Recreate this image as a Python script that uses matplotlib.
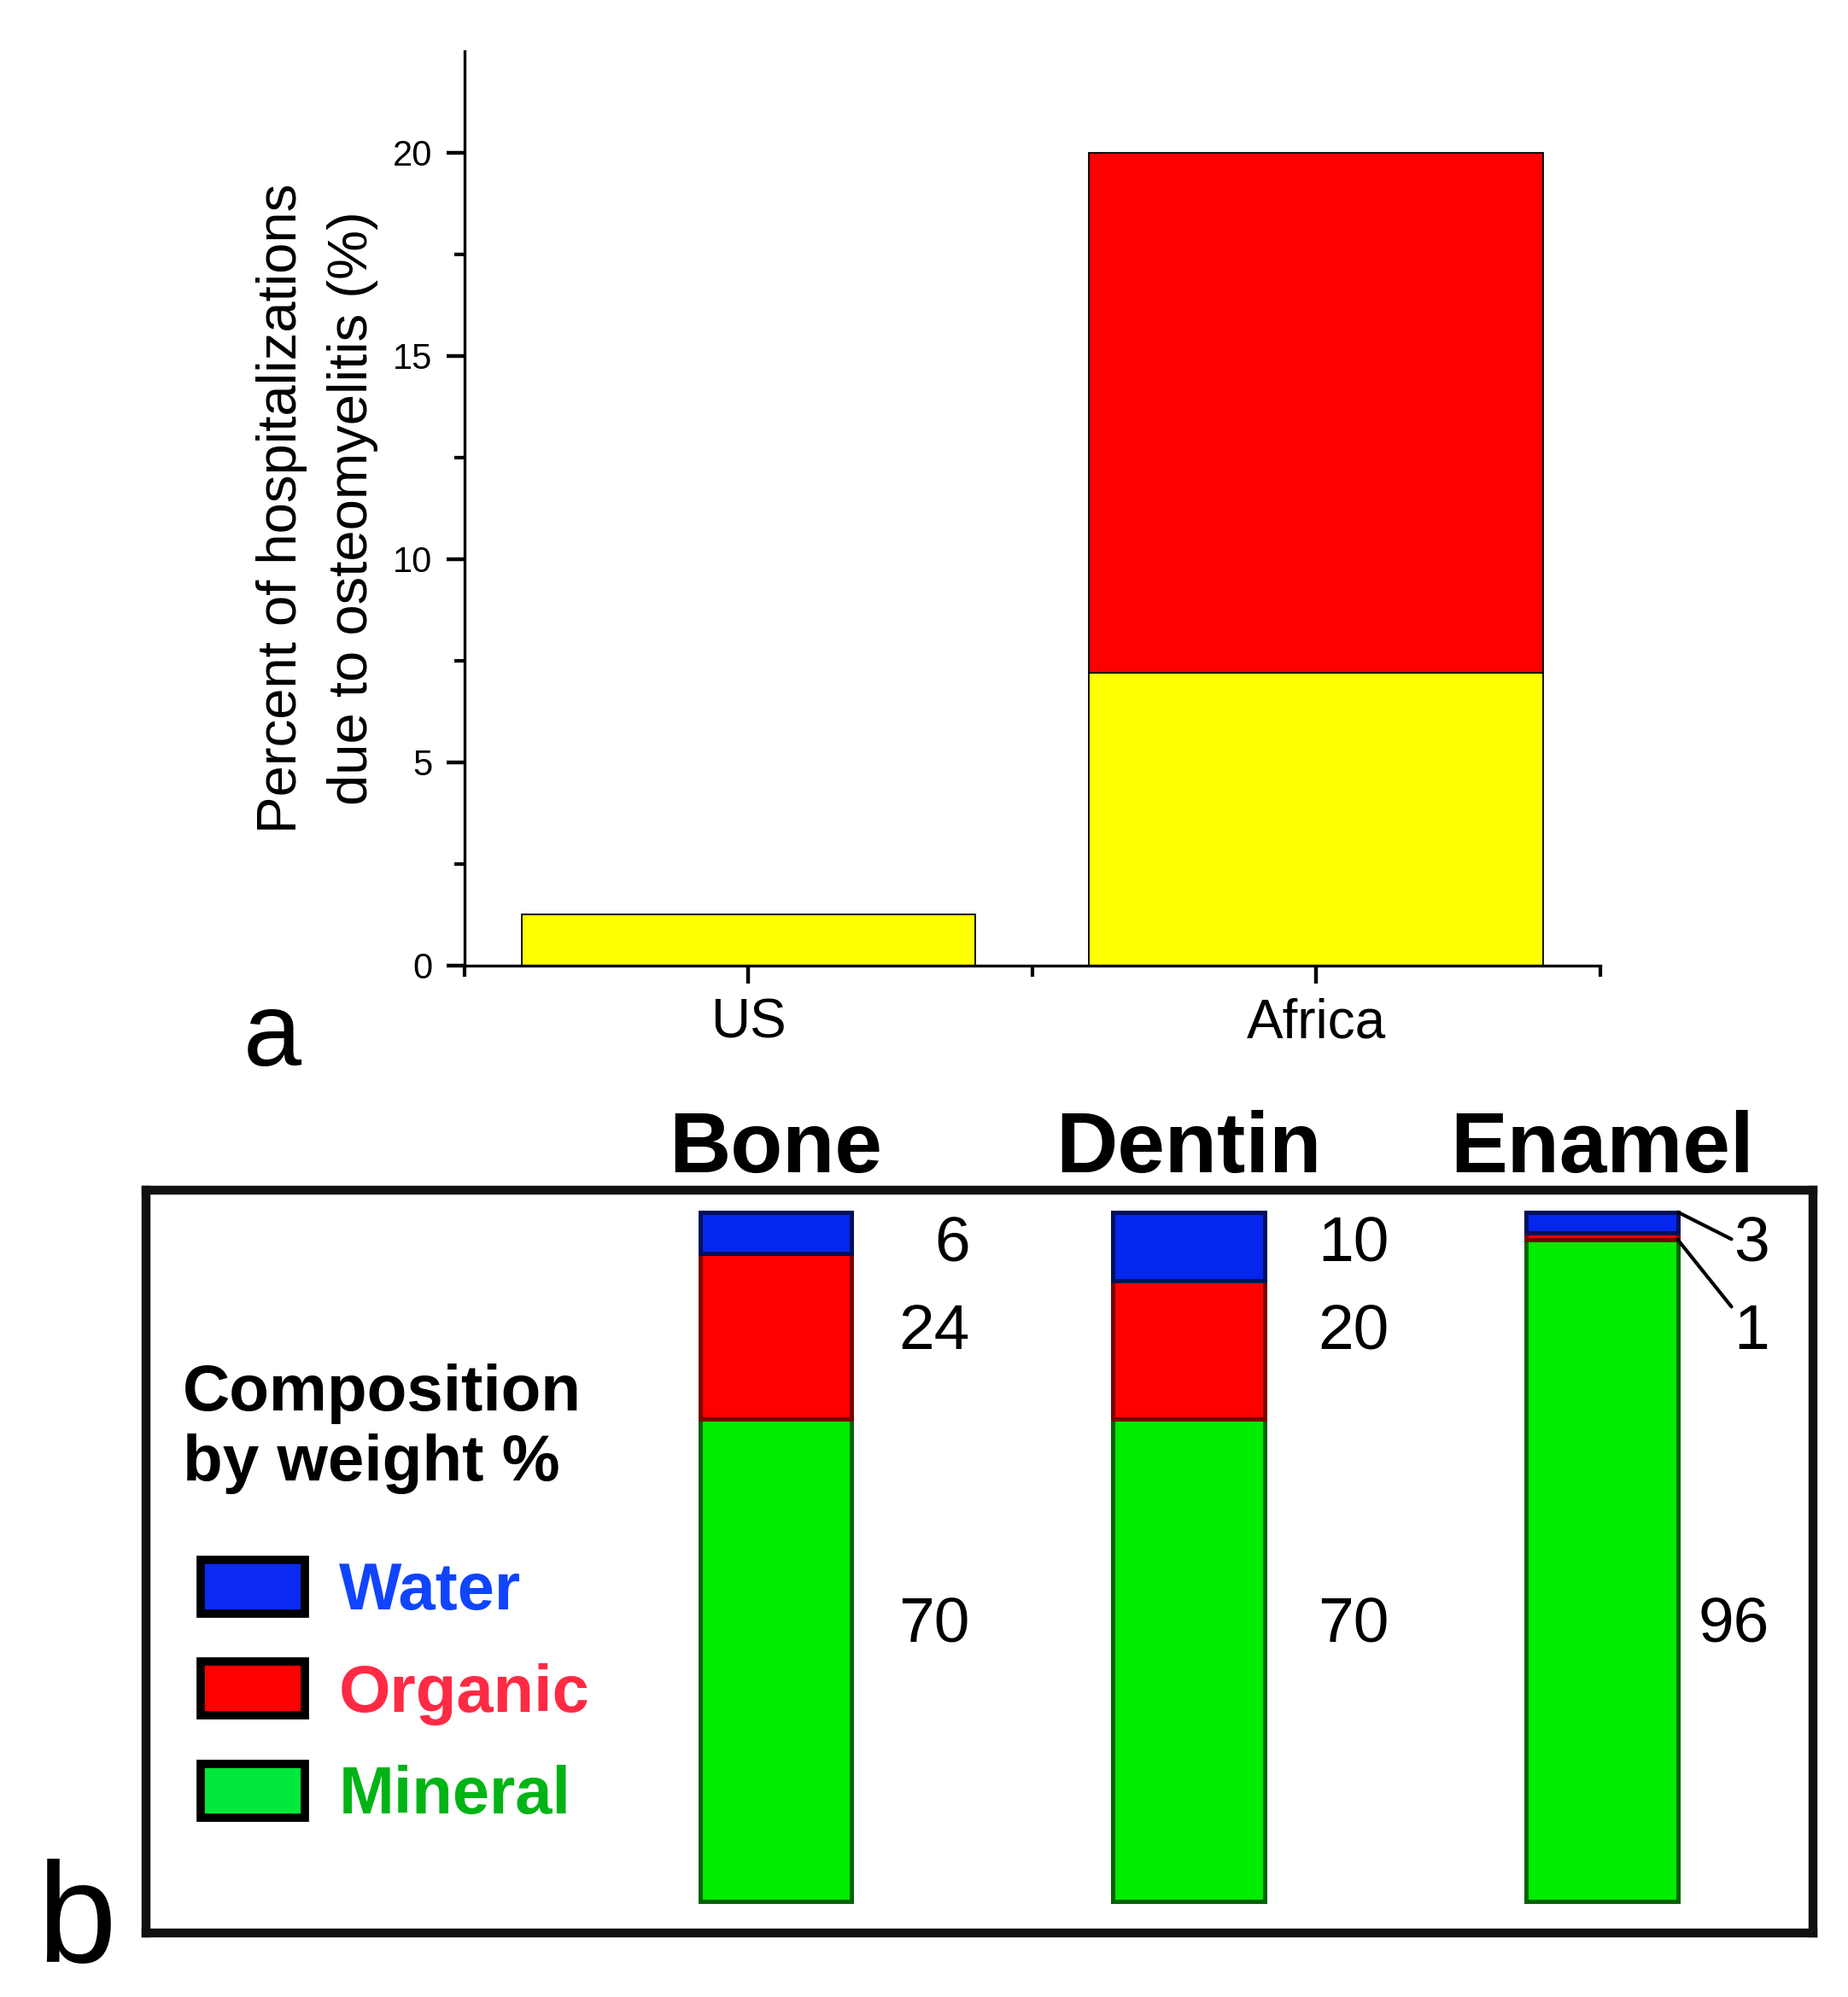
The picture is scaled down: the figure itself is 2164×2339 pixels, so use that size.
import matplotlib.pyplot as plt
from matplotlib.patches import Patch

plt.rcParams["font.family"] = ["Liberation Sans", "DejaVu Sans"]

# ---- panel a: hospitalizations due to osteomyelitis ----
regions = ["US", "Africa"]
lower_part = [1.25, 7.2]    # yellow segment
upper_part = [0.0, 12.8]    # red segment on top

# ---- panel b: composition by weight % ----
tissues = ["Bone", "Dentin", "Enamel"]
components = ["Water", "Organic", "Mineral"]
water = [6, 10, 3]
organic = [24, 20, 1]
mineral = [70, 70, 96]

# colours
FACE = {"Water": "#0526ee", "Organic": "#ff0000", "Mineral": "#00ec00"}
EDGE = {"Water": "#00105a", "Organic": "#7a0000", "Mineral": "#006400"}
LEGEND_FILL = {"Water": "#0a2af2", "Organic": "#ff0000", "Mineral": "#00e83c"}
LEGEND_TEXT = {"Water": "#1044ff", "Organic": "#ff2a44", "Mineral": "#00b416"}

fig = plt.figure(figsize=(21.64, 23.39), dpi=100)

# ============================================================
# panel a
# ============================================================
ax = fig.add_axes([0.2514, 0.5165, 0.6145, 0.4579])
xa = list(range(len(regions)))
ax.bar(xa, lower_part, width=0.8, color="#ffff00", edgecolor="black", linewidth=1.3)
ax.bar(xa, upper_part, width=0.8, bottom=lower_part, color="#ff0000",
       edgecolor="black", linewidth=1.3)

ax.set_xlim(-0.5, 1.5)
ax.set_ylim(0, 22.5)
ax.spines["top"].set_visible(False)
ax.spines["right"].set_visible(False)
for s in ("left", "bottom"):
    ax.spines[s].set_linewidth(2.4)

ax.set_xticks(xa, regions)
ax.set_xticks([-0.5, 0.5, 1.5], minor=True)
ax.set_yticks([0, 5, 10, 15, 20])
ax.set_yticks([2.5, 7.5, 12.5, 17.5], minor=True)
ax.tick_params(which="major", direction="out", length=15, width=3.2, pad=12)
ax.tick_params(which="minor", direction="out", length=9, width=3.0)
ax.tick_params(axis="y", labelsize=30)
ax.tick_params(axis="x", labelsize=46)

ax.set_ylabel("Percent of hospitalizations\ndue to osteomyelitis (%)",
              fontsize=47, linespacing=1.5, labelpad=12)

fig.text(319 / 2164, 1 - 1248 / 2339, "a", fontsize=88, ha="center", va="baseline")

# ============================================================
# panel b
# ============================================================
bx = fig.add_axes([0.0790, 0.0321, 0.9020, 0.3720])
xb = list(range(len(tissues)))
bar_w = 0.366

series = {"Water": water, "Organic": organic, "Mineral": mineral}
bottoms = [0] * len(tissues)
seg_bottom = {}
for comp in ["Mineral", "Organic", "Water"]:
    vals = series[comp]
    bx.bar(xb, vals, bar_w, bottom=bottoms, color=FACE[comp],
           edgecolor=EDGE[comp], linewidth=3.6)
    seg_bottom[comp] = list(bottoms)
    bottoms = [b + v for b, v in zip(bottoms, vals)]

bx.set_xlim(-1.523, 2.510)
bx.set_ylim(-4.58, 103.2)
for s in bx.spines.values():
    s.set_linewidth(7.5)
    s.set_color("#111111")

bx.set_yticks([])
bx.set_xticks(xb, tissues)
bx.xaxis.tick_top()
bx.tick_params(axis="x", length=0, labelsize=72, pad=0)
for lbl in bx.get_xticklabels():
    lbl.set_fontweight("bold")

# value labels
ROW_Y = {"Water": 95.3, "Organic": 82.5, "Mineral": 40.0}
LABEL_DX = [0.47, 0.485, 0.405]
for i in xb:
    xr = i + LABEL_DX[i]
    for comp in components:
        v = series[comp][i]
        if v >= 5:
            bx.text(xr, ROW_Y[comp], str(v), ha="right", va="center", fontsize=54)
        else:
            lo = seg_bottom[comp][i]
            anchor_y = lo + v if comp == "Water" else lo
            rel = (0.0, 0.57) if comp == "Water" else (0.12, 0.8)
            bx.annotate(str(v), xy=(i + bar_w / 2, anchor_y), xytext=(xr, ROW_Y[comp]),
                        ha="right", va="center", fontsize=54,
                        arrowprops=dict(arrowstyle="-", lw=3, color="black",
                                        shrinkA=0, shrinkB=0, relpos=rel))

# legend
handles = [Patch(facecolor=LEGEND_FILL[c], edgecolor="black", linewidth=7)
           for c in components]
bx.legend(handles, components, loc="upper left", bbox_to_anchor=(-1.390, 49.6),
          bbox_transform=bx.transData, frameon=False, borderpad=0, borderaxespad=0,
          handlelength=1.57, handleheight=0.874, handletextpad=0.51,
          labelspacing=0.58, prop={"weight": "bold", "size": 56},
          labelcolor=[LEGEND_TEXT[c] for c in components])

bx.text(-1.434, 78, "Composition\nby weight %", ha="left", va="top",
        fontsize=55, fontweight="bold")

fig.text(90 / 2164, 1 - 2297 / 2339, "b", fontsize=120, ha="center", va="baseline")

fig.savefig("out.png", dpi=100)
